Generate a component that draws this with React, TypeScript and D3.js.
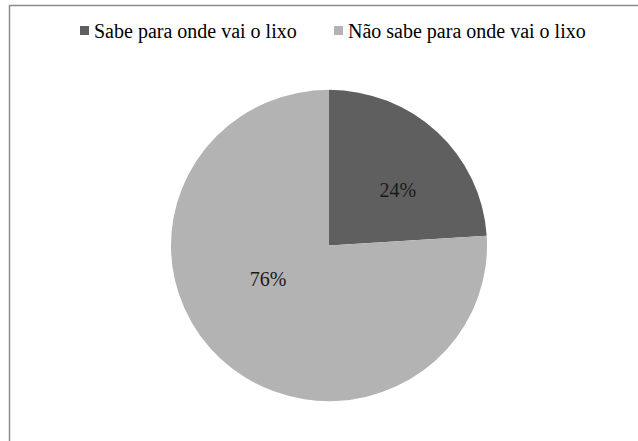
import React from "react";
import * as d3 from "d3";

const categories = ["Sabe para onde vai o lixo", "Não sabe para onde vai o lixo"];
const values = [24, 76];
const labels = ["24%", "76%"];
const colors = ["#5f5f5f", "#b3b3b3"];

// label placement tweaks (radius fraction, angle shift in degrees) to mimic the source layout
const labelTweak = [
  { rf: 0.56, da: 8 },
  { rf: 0.44, da: 18 },
];

export default function App() {
  const W = 638, H = 441;
  const cx = 329, cy = 245.5, r = 158;
  const pie = d3.pie<number>().sort(null).value((d) => d)(values);
  const arc = d3.arc<d3.PieArcDatum<number>>().innerRadius(0).outerRadius(r);
  const font = "Liberation Serif, DejaVu Serif, Times New Roman, serif";
  const legendX = [80, 334];
  return (
    <svg width={W} height={H} style={{ position: "absolute", left: 0, top: 0 }}>
      <rect x={0} y={0} width={W} height={H} fill="#fff" />
      <rect x={9.5} y={5.5} width={W + 10} height={H + 10} fill="none" stroke="#8c8c8c" strokeWidth={1.5} />
      {categories.map((c, i) => (
        <g key={c}>
          <rect x={legendX[i]} y={26} width={9} height={9} fill={colors[i]} />
          <text x={legendX[i] + 14} y={38} style={{ fontFamily: font, fontSize: 20 }} fill="#000">{c}</text>
        </g>
      ))}
      <g transform={`translate(${cx},${cy}) scale(1,0.985)`}>
        {pie.map((p, i) => (
          <path key={i} d={arc(p) || ""} fill={colors[i]} />
        ))}
      </g>
      {pie.map((p, i) => {
        const mid = (p.startAngle + p.endAngle) / 2 + (labelTweak[i].da * Math.PI) / 180;
        const rr = r * labelTweak[i].rf;
        const lx = Math.sin(mid) * rr;
        const ly = -Math.cos(mid) * rr;
        return (
          <text key={i} x={cx + lx} y={cy + ly} textAnchor="middle" dominantBaseline="central" style={{ fontFamily: font, fontSize: 20 }} fill="#1a1a1a">{labels[i]}</text>
        );
      })}
    </svg>
  );
}
